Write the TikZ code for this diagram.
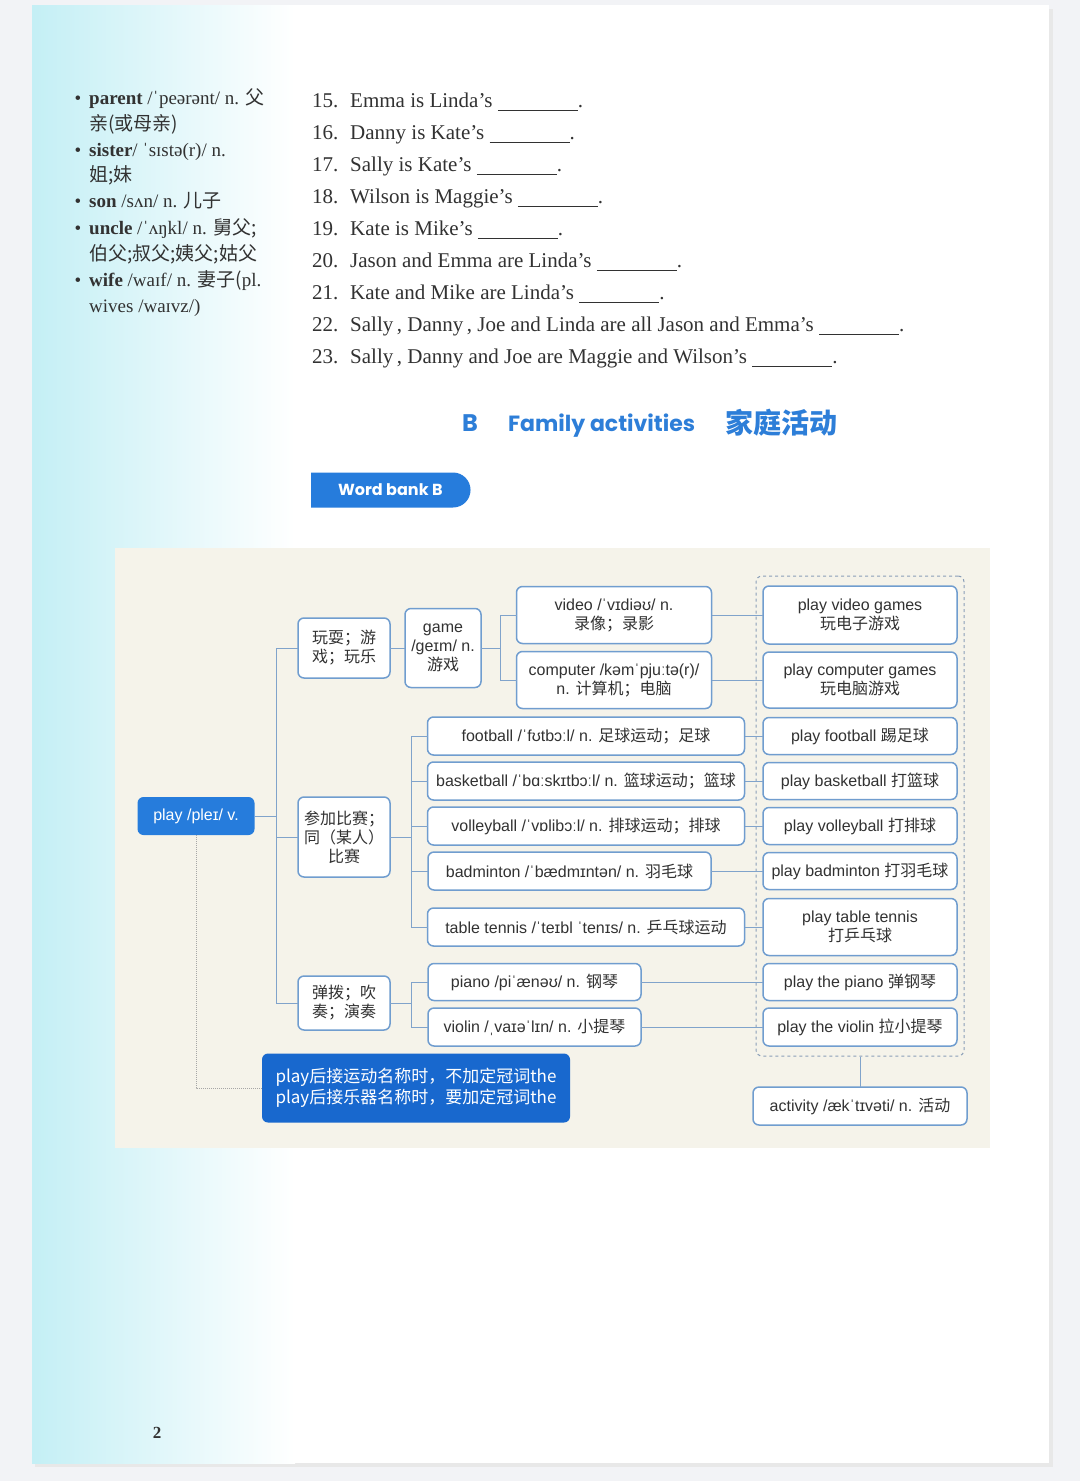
\documentclass[tikz,border=0pt]{standalone}
\usepackage{fontspec}
\setmainfont{Liberation Serif}
\newfontfamily\cjk{Noto Sans CJK SC}
\newfontfamily\lsans{Liberation Sans}
\newfontfamily\roundfont{Poppins}
\usetikzlibrary{positioning,fit,shapes.misc}
\definecolor{pagebg}{RGB}{242,243,246}
\definecolor{sidecyan}{RGB}{196,239,245}
\definecolor{diagbg}{RGB}{245,243,234}
\definecolor{boxline}{RGB}{112,157,207}
\definecolor{linkline}{RGB}{128,163,203}
\definecolor{playblue}{RGB}{38,124,220}
\definecolor{noteblue}{RGB}{24,104,206}
\definecolor{titleblue}{RGB}{45,126,216}
\definecolor{framegray}{RGB}{138,158,184}
\definecolor{inkgray}{RGB}{50,50,50}
\newcommand\zh[1]{{\cjk #1}}
\newcommand\blank{\rule[-4pt]{80pt}{0.7pt}}
\newcommand\dotitem{\makebox[0pt][r]{\textbullet\hspace{8pt}}}

\begin{document}
\begin{tikzpicture}[x=1pt,y=-1pt,
dims/.style 2 args={minimum width=#1,minimum height=#2},
word box/.style={draw=boxline,line width=1.5pt,fill=white,rounded corners=6pt,align=center,inner sep=2pt,outer sep=0pt,font=\lsans\fontsize{16}{19}\selectfont,text=inkgray},
blue box/.style={word box,draw=none,fill=playblue,text=white},
group frame/.style={draw=framegray,dashed,line width=1pt,rounded corners=6pt,inner xsep=7pt,inner ysep=10pt},
link/.style={draw=linkline,line width=1pt},
note link/.style={draw=black!35,densely dotted,line width=1pt},
side text/.style={anchor=base west,inner sep=0pt,font=\fontsize{19}{22}\selectfont,text=inkgray},
q text/.style={anchor=base west,inner sep=0pt,font=\fontsize{21}{24}\selectfont,text=inkgray},
tab/.style={rounded rectangle,rounded rectangle left arc=none,fill=playblue,text=white,dims={166pt}{35pt},font=\roundfont\bfseries\fontsize{16}{19}\selectfont}]
\useasboundingbox (0,0) rectangle (1080,1481);
% page
\fill[pagebg] (0,0) rectangle (1080,1481);
\fill[black!9] (35,9) rectangle (1053,1467);
\fill[white] (32,5) rectangle (1049,1463);
\shade[left color=sidecyan,right color=white] (32,5) rectangle (295,1463);

% side notes
\node[side text] (s1) at (89,104) {\dotitem\textbf{parent} /ˈpeərənt/ n. \zh{父}};
\node[side text] (s2) at (89,130) {\zh{亲(或母亲)}};
\node[side text] (s3) at (89,156) {\dotitem\textbf{sister}/ ˈsɪstə(r)/ n.};
\node[side text] (s4) at (89,181) {\zh{姐;妹}};
\node[side text] (s5) at (89,207) {\dotitem\textbf{son} /sʌn/ n. \zh{儿子}};
\node[side text] (s6) at (89,234) {\dotitem\textbf{uncle} /ˈʌŋkl/ n. \zh{舅父;}};
\node[side text] (s7) at (89,260) {\zh{伯父;叔父;姨父;姑父}};
\node[side text] (s8) at (89,286) {\dotitem\textbf{wife} /waɪf/ n. \zh{妻子(}pl.};
\node[side text] (s9) at (89,312) {wives /waɪvz/)};

% questions
\foreach \n/\q [count=\k from 0] in {15/{Emma is Linda’s},16/{Danny is Kate’s},17/{Sally is Kate’s},18/{Wilson is Maggie’s},19/{Kate is Mike’s},20/{Jason and Emma are Linda’s},21/{Kate and Mike are Linda’s},22/{Sally\,, Danny\,, Joe and Linda are all Jason and Emma’s},23/{Sally\,, Danny and Joe are Maggie and Wilson’s}}
  {\node[q text] (n\n) at (312,107+32*\k) {\n.};
   \node[q text] (q\n) at (350,107+32*\k) {\q\ \blank.};}

% heading
\node[anchor=base west,inner sep=0pt,text=titleblue,font=\roundfont\bfseries\fontsize{24}{28}\selectfont] (hb) at (462,431) {B};
\node[anchor=base west,inner sep=0pt,text=titleblue,font=\roundfont\bfseries\fontsize{22}{28}\selectfont] (hfam) at (508,431) {Family activities};
\node[anchor=base west,inner sep=0pt,text=titleblue,font=\cjk\bfseries\fontsize{28}{32}\selectfont] (hzh) at (725,433) {家庭活动};
\node[tab,anchor=west] (wordbank) at (311,490) {Word bank B};

% word map
\fill[diagbg] (115,548) rectangle (990,1148);
\node[blue box,dims={117pt}{38pt}] (play) at (196,816) {play /pleɪ/ v.};
\node[word box,dims={92pt}{60pt}] (playgame) at (344,648) {\zh{玩耍；游}\\\zh{戏；玩乐}};
\node[word box,dims={92pt}{80pt}] (compete) at (344,837) {\zh{参加比赛；}\\\zh{同（某人）}\\\zh{比赛}};
\node[word box,dims={92pt}{54pt}] (perform) at (344,1003) {\zh{弹拨；吹}\\\zh{奏；演奏}};
\node[word box,dims={76pt}{79pt}] (game) at (443,648) {game\\/ɡeɪm/ n.\\\zh{游戏}};
\node[word box,dims={195pt}{57pt}] (video) at (614,615) {video /ˈvɪdiəʊ/ n.\\\zh{录像；录影}};
\node[word box,dims={195pt}{57pt}] (computer) at (614,680) {computer /kəmˈpjuːtə(r)/\\n. \zh{计算机；电脑}};
\node[word box,dims={317pt}{38pt}] (football) at (586,736) {football /ˈfʊtbɔːl/ n. \zh{足球运动；足球}};
\node[word box,dims={317pt}{38pt}] (basketball) at (586,781) {basketball /ˈbɑːskɪtbɔːl/ n. \zh{篮球运动；篮球}};
\node[word box,dims={317pt}{38pt}] (volleyball) at (586,826) {volleyball /ˈvɒlibɔːl/ n. \zh{排球运动；排球}};
\node[word box,dims={283pt}{38pt}] (badminton) at (569.5,871) {badminton /ˈbædmɪntən/ n. \zh{羽毛球}};
\node[word box,dims={317pt}{38pt}] (tabletennis) at (586,927) {table tennis /ˈteɪbl ˈtenɪs/ n. \zh{乒乓球运动}};
\node[word box,dims={213pt}{37pt}] (piano) at (534.5,982) {piano /piˈænəʊ/ n. \zh{钢琴}};
\node[word box,dims={213pt}{38pt}] (violin) at (534.5,1027) {violin /ˌvaɪəˈlɪn/ n. \zh{小提琴}};
\node[word box,dims={194pt}{58pt}] (pvideo) at (860,615) {play video games\\\zh{玩电子游戏}};
\node[word box,dims={194pt}{56pt}] (pcomputer) at (860,680) {play computer games\\\zh{玩电脑游戏}};
\node[word box,dims={194pt}{37pt}] (pfootball) at (860,736) {play football \zh{踢足球}};
\node[word box,dims={194pt}{37pt}] (pbasketball) at (860,781) {play basketball \zh{打篮球}};
\node[word box,dims={194pt}{37pt}] (pvolleyball) at (860,826) {play volleyball \zh{打排球}};
\node[word box,dims={194pt}{37pt}] (pbadminton) at (860,871) {play badminton \zh{打羽毛球}};
\node[word box,dims={194pt}{57pt}] (ptabletennis) at (860,927) {play table tennis\\\zh{打乒乓球}};
\node[word box,dims={194pt}{37pt}] (ppiano) at (860,982) {play the piano \zh{弹钢琴}};
\node[word box,dims={194pt}{38pt}] (pviolin) at (860,1027) {play the violin \zh{拉小提琴}};
\node[group frame,fit=(pvideo)(pviolin)] (group) {};
\node[word box,dims={214pt}{38pt}] (activity) at (860,1106) {activity /ækˈtɪvəti/ n. \zh{活动}};
\node[blue box,fill=noteblue,dims={308pt}{69pt},font=\cjk\fontsize{17}{21}\selectfont] (note) at (416,1088) {play后接运动名称时，不加定冠词the\\play后接乐器名称时，要加定冠词the};

% connectors
\coordinate (tk) at (276,816);
\coordinate (gk) at (500,648);
\coordinate (sk) at (411,837);
\coordinate (ik) at (411,1003);
\draw[link] (play) -- (tk);
\foreach \c in {playgame,compete,perform} \draw[link] (tk) |- (\c);
\draw[link] (playgame) -- (game);
\draw[link] (game) -- (gk);
\foreach \c in {video,computer} \draw[link] (gk) |- (\c);
\draw[link] (compete) -- (sk);
\foreach \c in {football,basketball,volleyball,badminton,tabletennis} \draw[link] (sk) |- (\c);
\draw[link] (perform) -- (ik);
\foreach \c in {piano,violin} \draw[link] (ik) |- (\c);
\foreach \a/\b in {video/pvideo,computer/pcomputer,football/pfootball,basketball/pbasketball,volleyball/pvolleyball,badminton/pbadminton,tabletennis/ptabletennis,piano/ppiano,violin/pviolin}
  \draw[link] (\a) -- (\b);
\draw[link] (group) -- (activity);
\draw[note link] (play) |- (note);

% page number
\node[inner sep=0pt,font=\bfseries\fontsize{17}{20}\selectfont,text=inkgray] (pagenum) at (157,1433) {2};
\end{tikzpicture}
\end{document}
